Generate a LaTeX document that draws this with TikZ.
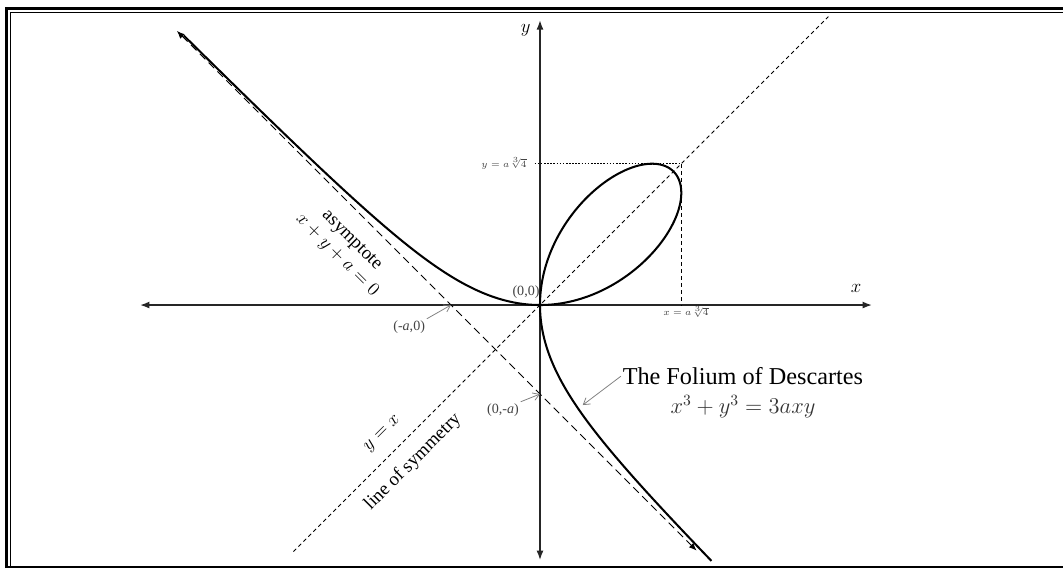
\documentclass[tikz,border=0pt]{standalone}
\usepackage{fontspec}
\setmainfont{Liberation Serif}
\usepackage{amsmath}
\usepackage{tikz}
\usetikzlibrary{arrows.meta,positioning,calc}
\definecolor{FoliumGray}{HTML}{444444}
\definecolor{FoliumPointer}{HTML}{808080}

\begin{document}
\begin{tikzpicture}[x=2cm, y=2cm,
  every node/.style={font=\small},
  axis/.style={draw=black!85, line width=1pt,
               {Latex[length=6pt,width=4.5pt]}-{Latex[length=6pt,width=4.5pt]}},
  branch/.style={draw=black, line width=1.3pt, line join=round, smooth},
  asym/.style={draw=black, line width=0.6pt, dash pattern=on 5pt off 3pt,
               {Latex[length=5pt,width=4pt]}-{Latex[length=5pt,width=4pt]}},
  symline/.style={draw=black, line width=0.5pt, dash pattern=on 2.5pt off 2pt},
  guide/.style={draw=black, line width=0.4pt, dash pattern=on 1pt off 1pt},
  pointer/.style={-{Straight Barb[length=4pt,width=5pt]}, draw=FoliumPointer, line width=0.5pt},
  pt/.style={font=\fontsize{9}{10}\selectfont, text=FoliumGray, inner sep=1pt},
  tick/.style={font=\fontsize{6.5}{7}\selectfont, text=FoliumGray, inner sep=1pt},
  note/.style={font=\fontsize{12}{13}\selectfont, inner sep=1pt},
]
\useasboundingbox (-6.067,-2.955) rectangle (5.876,3.427);

% frame
\draw[line width=1.9pt] (-5.989,-2.955) -- (-5.989,3.329) -- (5.876,3.329);
\draw[line width=0.8pt] (-5.947,-2.942) -- (-5.947,3.287) -- (5.876,3.287);
\draw[line width=1.2pt] (-5.989,-2.942) -- (5.876,-2.942);

% axes
\coordinate (O)  at (0,0);
\coordinate (xl) at (-4.494,0);
\coordinate (xr) at (3.73,0);
\coordinate (yb) at (0,-2.865);
\coordinate (yt) at (0,3.20);
\draw[axis] (xl) -- (xr);
\draw[axis] (yb) -- (yt);
\node[note] (xlab) at (3.55,0.19) {$x$};
\node[note] (ylab) at (-0.16,3.09) {$y$};

% asymptote and line of symmetry
\coordinate (asA)  at (-4.08,3.08);
\coordinate (asB)  at (1.76,-2.76);
\coordinate (symA) at (-2.77,-2.77);
\coordinate (symB) at (3.24,3.24);
\draw[asym] (asA) -- (asB);
\draw[symline] (symA) -- (symB);

% the folium, x^3+y^3=3axy with a=1
\draw[branch] plot[domain=-0.7565:0, samples=120]
  ({3*\x/(1+\x*\x*\x)}, {3*\x*\x/(1+\x*\x*\x)});
\draw[branch] plot[domain=0:90, samples=150]
  ({3*sin(\x)*cos(\x)*cos(\x)/(sin(\x)*sin(\x)*sin(\x)+cos(\x)*cos(\x)*cos(\x))},
   {3*sin(\x)*sin(\x)*cos(\x)/(sin(\x)*sin(\x)*sin(\x)+cos(\x)*cos(\x)*cos(\x))});
\draw[branch] plot[domain=-0.67:0, samples=120]
  ({3*\x*\x/(1+\x*\x*\x)}, {3*\x/(1+\x*\x*\x)});

% extremes of the loop
\coordinate (ymax)   at (-0.06,1.587);
\coordinate (corner) at (1.587,1.587);
\coordinate (xmax)   at (1.587,0);
\draw[guide] (ymax) -- (corner);
\draw[symline] (corner) -- (xmax);
\node[tick, anchor=east] (ytick) at (-0.13,1.59) {$y = a\sqrt[3]{4}$};
\node[tick] (xtick) at (1.64,-0.075) {$x = a\sqrt[3]{4}$};

% points
\coordinate (A) at (-1,0);
\coordinate (B) at (0,-1);
\node[pt] (origin) at (-0.157,0.146) {(0,0)};
\node[pt] (negA) at (-1.47,-0.247) {(-\textit{a},0)};
\node[pt] (negB) at (-0.416,-1.18) {(0,-\textit{a})};
\draw[pointer] (negA.north east) -- (A);
\draw[pointer] (negB.north east) -- (B);

% labels
\node[note, rotate=-45] (asymLbl) at (-2.12,0.72) {asymptote};
\node[note, rotate=-45] (asymEq)  at (-2.28,0.56) {$x + y + a = 0$};
\node[note, rotate=45]  (symEq)   at (-1.764,-1.449) {$y = x$};
\node[note, rotate=45]  (symLbl)  at (-1.427,-1.764) {line of symmetry};

\node[font=\fontsize{15.5}{17}\selectfont, inner sep=1pt] (title) at (2.28,-0.80) {The Folium of Descartes};
\node[font=\fontsize{14}{16}\selectfont, text=black!80, below=2pt of title] (eqn) {$x^3 + y^3 = 3axy$};
\coordinate (onCurve) at (0.48,-1.124);
\draw[pointer] (title.west) -- (onCurve);
\end{tikzpicture}
\end{document}
